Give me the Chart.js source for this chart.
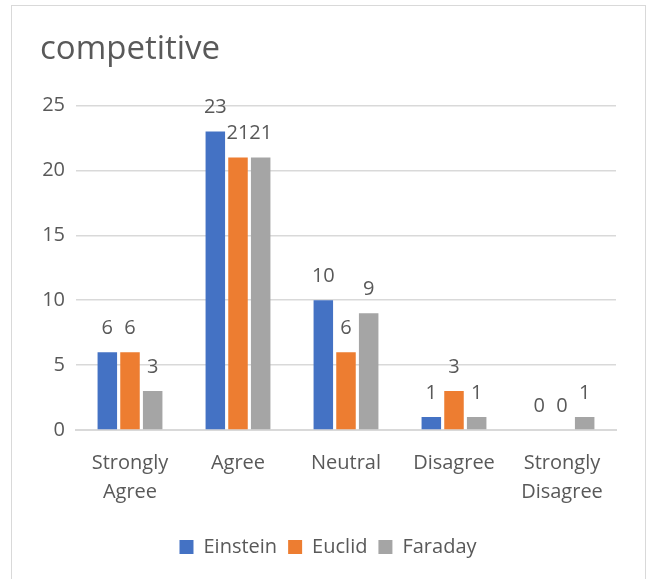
<!DOCTYPE html>
<html lang="en">
<head>
    <meta charset="UTF-8">
    <title>competitive</title>
    <script src="https://cdn.jsdelivr.net/npm/chart.js@4/dist/chart.umd.min.js"></script>
    <style>
        body { margin: 0; background: #fff; }
        #box { position: absolute; left: 11px; top: 5px; width: 633px; height: 580px; border: 1px solid #d9d9d9; }
        #wrap { position: absolute; left: 0; top: 0; width: 651px; height: 579px; }
    </style>
</head>
<body>
    <div id="box"></div>
    <div id="wrap"><canvas id="chart"></canvas></div>
    <script>
        var categories = [["Strongly", "Agree"], "Agree", "Neutral", "Disagree", ["Strongly", "Disagree"]]
        var einstein = [6, 23, 10, 1, 0]
        var euclid = [6, 21, 6, 3, 0]
        var faraday = [3, 21, 9, 1, 1]
        var yTicks = [0, 5, 10, 15, 20, 25]

        var textColor = "#595959"
        var fontName = "'Open Sans', 'Noto Sans', sans-serif"

        // numbers above each bar
        var valueLabels = {
            id: "valueLabels",
            afterDatasetsDraw: function(chart){
                var ctx = chart.ctx
                ctx.save()
                ctx.fillStyle = textColor
                ctx.font = "20px " + fontName
                ctx.textAlign = "center"
                ctx.textBaseline = "middle"
                chart.data.datasets.forEach(function(ds, i){
                    chart.getDatasetMeta(i).data.forEach(function(bar, j){
                        ctx.fillText(String(ds.data[j]), bar.x, bar.y - 24)
                    })
                })
                ctx.restore()
            }
        }

        var chart_data = {
            type: "bar",
            data: {
                labels: categories,
                datasets: [
                    { label: "Einstein", data: einstein, backgroundColor: "#4472c4" },
                    { label: "Euclid", data: euclid, backgroundColor: "#ed7d31" },
                    { label: "Faraday", data: faraday, backgroundColor: "#a5a5a5" }
                ]
            },
            options: {
                responsive: true,
                maintainAspectRatio: false,
                animation: false,
                categoryPercentage: 0.63,
                barPercentage: 0.86,
                layout: { padding: { left: 40, right: 35, top: 30, bottom: 12 } },
                plugins: {
                    title: {
                        display: true,
                        text: "competitive",
                        align: "start",
                        color: textColor,
                        font: { family: fontName, size: 33, weight: "normal" },
                        padding: { top: 0, bottom: 36 }
                    },
                    legend: {
                        position: "bottom",
                        labels: {
                            color: textColor,
                            font: { family: fontName, size: 20 },
                            boxWidth: 14,
                            boxHeight: 14,
                            padding: 11
                        }
                    },
                    tooltip: { enabled: false }
                },
                scales: {
                    x: {
                        grid: { display: false, drawTicks: false },
                        border: { color: "#d9d9d9", width: 2 },
                        ticks: {
                            color: textColor,
                            font: { family: fontName, size: 20, lineHeight: 1.45 },
                            padding: 19,
                            maxRotation: 0
                        }
                    },
                    y: {
                        min: 0,
                        max: 25,
                        afterBuildTicks: function(scale){
                            scale.ticks = yTicks.map(function(v){ return { value: v } })
                        },
                        afterFit: function(scale){ scale.width = 36 },
                        grid: { color: "#d9d9d9", lineWidth: 1.5, drawTicks: false },
                        border: { display: false },
                        ticks: {
                            color: textColor,
                            font: { family: fontName, size: 20 },
                            padding: 11
                        }
                    }
                }
            },
            plugins: [valueLabels]
        }

        window.addEventListener("load", function(e){
            new Chart(document.getElementById("chart"), chart_data)
        })
    </script>
</body>
</html>
